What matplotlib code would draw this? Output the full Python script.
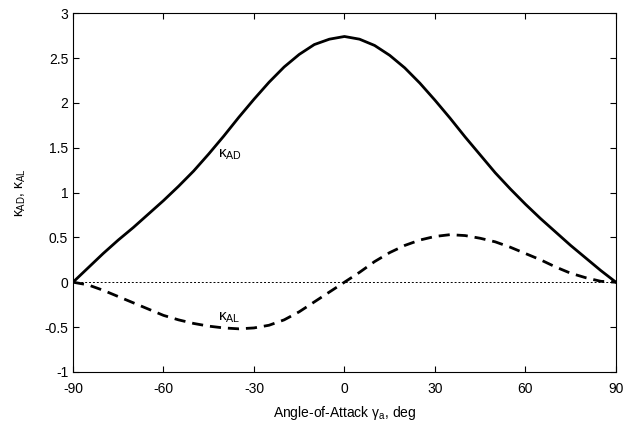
import matplotlib
matplotlib.use("Agg")
import matplotlib.pyplot as plt
import numpy as np

plt.rcParams["font.family"] = ["Liberation Sans", "DejaVu Sans"]
plt.rcParams["mathtext.fontset"] = "custom"
plt.rcParams["mathtext.rm"] = "Liberation Sans"
plt.rcParams["mathtext.it"] = "Liberation Sans"
plt.rcParams["axes.unicode_minus"] = False
plt.rcParams["font.size"] = 10

# angle of attack, deg
gamma = [-90, -85, -80, -75, -70, -65, -60, -55, -50, -45, -40, -35, -30, -25, -20,
         -15, -10, -5, 0, 5, 10, 15, 20, 25, 30, 35, 40, 45, 50, 55, 60, 65, 70, 75,
         80, 85, 90]

# drag coefficient ratio (solid)
k_ad = [0.0, 0.16, 0.32, 0.47, 0.61, 0.76, 0.91, 1.07, 1.24, 1.43, 1.63, 1.84, 2.04,
        2.23, 2.40, 2.54, 2.65, 2.71, 2.74, 2.71, 2.64, 2.53, 2.39, 2.22, 2.03, 1.83,
        1.62, 1.42, 1.22, 1.04, 0.87, 0.71, 0.56, 0.41, 0.27, 0.13, 0.0]

# lift coefficient ratio (dashed)
k_al = [0.0, -0.03, -0.09, -0.16, -0.23, -0.30, -0.37, -0.42, -0.46, -0.49, -0.51,
        -0.52, -0.51, -0.48, -0.42, -0.33, -0.22, -0.11, 0.0, 0.11, 0.23, 0.33, 0.41,
        0.47, 0.51, 0.53, 0.52, 0.49, 0.45, 0.39, 0.32, 0.25, 0.17, 0.10, 0.05, 0.01,
        0.0]

fig = plt.figure(figsize=(6.24, 4.25), dpi=100)
ax = fig.add_axes([0.117, 0.125, 0.870, 0.844])

ax.plot([-90, 90], [0, 0], color="black", lw=0.7, ls=(0, (2, 2)))
ax.plot(gamma, k_ad, color="black", lw=2.0)
ax.plot(gamma, k_al, color="black", lw=2.0, ls=(0, (4, 2.5)))

ax.text(-42, 1.42, r"$\kappa_{\rm AD}$", fontsize=11, va="center", ha="left")
ax.text(-42, -0.40, r"$\kappa_{\rm AL}$", fontsize=11, va="center", ha="left")

ax.set_xlim(-90, 90)
ax.set_ylim(-1, 3)
ax.set_xticks([-90, -60, -30, 0, 30, 60, 90])
ax.set_yticks([-1, -0.5, 0, 0.5, 1, 1.5, 2, 2.5, 3])
ax.set_yticklabels(["-1", "-0.5", "0", "0.5", "1", "1.5", "2", "2.5", "3"])
ax.tick_params(direction="in", top=True, right=True, length=4, width=0.8)
ax.tick_params(axis="x", pad=7)
for s in ax.spines.values():
    s.set_linewidth(0.8)

ax.set_xlabel(r"Angle-of-Attack $\gamma_{\rm a}$, deg", labelpad=6)
ax.set_ylabel(r"$\kappa_{\rm AD}$, $\kappa_{\rm AL}$", labelpad=12)

fig.savefig("out.png", dpi=100)
